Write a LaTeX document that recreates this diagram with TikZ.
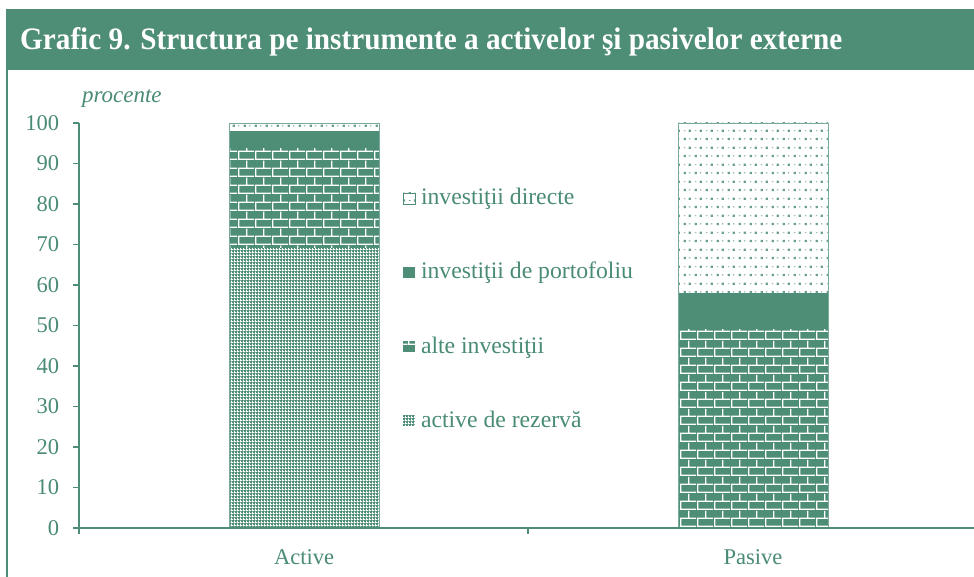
\documentclass[tikz,border=0pt]{standalone}
\usepackage{fontspec}
\setmainfont{Liberation Serif}
\usepackage{graphicx}
\usetikzlibrary{patterns}
\definecolor{nbr}{RGB}{78,142,118}
\definecolor{nbrtext}{RGB}{74,140,115}

\pgfdeclarepatternformonly{bricksw}{\pgfpointorigin}{\pgfpoint{17pt}{16.6pt}}{\pgfpoint{17pt}{16.6pt}}{%
 \pgfsetlinewidth{1.3pt}%
 \pgfpathmoveto{\pgfpoint{0pt}{0.7pt}}\pgfpathlineto{\pgfpoint{17pt}{0.7pt}}%
 \pgfpathmoveto{\pgfpoint{0pt}{9pt}}\pgfpathlineto{\pgfpoint{17pt}{9pt}}%
 \pgfpathmoveto{\pgfpoint{0.7pt}{0.7pt}}\pgfpathlineto{\pgfpoint{0.7pt}{9pt}}%
 \pgfpathmoveto{\pgfpoint{9.2pt}{9pt}}\pgfpathlineto{\pgfpoint{9.2pt}{16.6pt}}%
 \pgfusepath{stroke}}

\pgfdeclarepatternformonly{finegrid}{\pgfpointorigin}{\pgfpoint{3pt}{3pt}}{\pgfpoint{3pt}{3pt}}{%
 \pgfpathrectangle{\pgfpointorigin}{\pgfpoint{3pt}{1.05pt}}%
 \pgfpathrectangle{\pgfpointorigin}{\pgfpoint{1.05pt}{3pt}}%
 \pgfusepath{fill}}

\pgfdeclarepatternformonly{dotsd}{\pgfpointorigin}{\pgfpoint{11pt}{16.6pt}}{\pgfpoint{11pt}{16.6pt}}{%
 \pgfpathrectangle{\pgfpoint{1.8pt}{2pt}}{\pgfpoint{2.3pt}{2.3pt}}%
 \pgfpathrectangle{\pgfpoint{7.3pt}{10.3pt}}{\pgfpoint{2.3pt}{2.3pt}}%
 \pgfpathrectangle{\pgfpoint{7.4pt}{2.7pt}}{\pgfpoint{1.8pt}{0.9pt}}%
 \pgfpathrectangle{\pgfpoint{1.9pt}{11pt}}{\pgfpoint{1.8pt}{0.9pt}}%
 \pgfusepath{fill}}

\tikzset{
  reservefill/.style={fill=nbr, postaction={pattern=finegrid, pattern color=white}},
  otherfill/.style={fill=nbr, postaction={pattern=bricksw, pattern color=white}},
  portffill/.style={fill=nbr},
  directfill/.style={fill=white, postaction={pattern=dotsd, pattern color=nbr!85}},
  barline/.style={draw=nbr!75, line width=0.6pt},
  axisline/.style={draw=nbr, line width=1.2pt},
  lbl/.style={text=nbrtext, font=\fontsize{22.5}{26}\selectfont, inner sep=0pt, outer sep=0pt},
  legtxt/.style={text=nbrtext, font=\fontsize{23.7}{28}\selectfont, inner sep=0pt, outer sep=0pt, anchor=base west},
}

\begin{document}
\begin{tikzpicture}[x=1pt,y=-1pt]
\useasboundingbox (0,0) rectangle (974,577);
\fill[white] (0,0) rectangle (974,577);
% title bar
\fill[nbr] (6,9) rectangle (974,70);
\node[anchor=base west, inner sep=0pt, text=white] (title) at (20,50)
  {\resizebox{822pt}{22pt}{\bfseries Grafic 9. Structura pe instrumente a activelor şi pasivelor externe}};
\draw[nbr, line width=1.3pt] (7,70) -- (7,577);

% unit label
\node[lbl, anchor=base west, font=\itshape\fontsize{23}{27}\selectfont] (unit) at (82,103) {procente};

% bars (data scope: y in percent, upward)
\begin{scope}[shift={(0,528)}, y=4.05pt]
  % Active
  \path[reservefill] (229,0) rectangle (379,69.2);
  \path[otherfill] (229,69.2) rectangle (379,93.8);
  \path[portffill] (229,93.8) rectangle (379,98);
  \path[directfill] (229,98) rectangle (379,100);
  \path[barline] (229,0) rectangle (379,100);
  % Pasive
  \path[otherfill] (678,0) rectangle (828,49.1);
  \path[portffill] (678,49.1) rectangle (828,58);
  \path[directfill] (678,58) rectangle (828,100);
  \path[barline] (678,0) rectangle (828,100);
  % y ticks and labels
  \foreach \v in {0,10,...,100} {
    \draw[axisline] (73,\v) -- (79,\v);
    \node[lbl, anchor=east] (yl\v) at (59,\v) {\v};
  }
  \draw[axisline] (79,0) -- (79,100);
\end{scope}

% x axis
\draw[axisline] (79,528) -- (974,528);
\draw[axisline] (79,528) -- (79,534);
\draw[axisline] (528,528) -- (528,534);

% categories
\node[lbl, anchor=base] (catA) at (304,564) {Active};
\node[lbl, anchor=base] (catP) at (753,564) {Pasive};

% legend
\path[directfill] (403,193) rectangle (415,204);
\draw[nbr, line width=0.6pt] (403,193) rectangle (415,204);
\node[legtxt] (leg1) at (421,205) {investiţii directe};
\path[portffill] (403,267) rectangle (415,278);
\node[legtxt] (leg2) at (421,279) {investiţii de portofoliu};
\path[otherfill] (403,341) rectangle (415,352);
\node[legtxt] (leg3) at (421,353) {alte investiţii};
\path[reservefill] (403,415) rectangle (415,426);
\node[legtxt] (leg4) at (421,427) {active de rezervă};
\end{tikzpicture}
\end{document}
